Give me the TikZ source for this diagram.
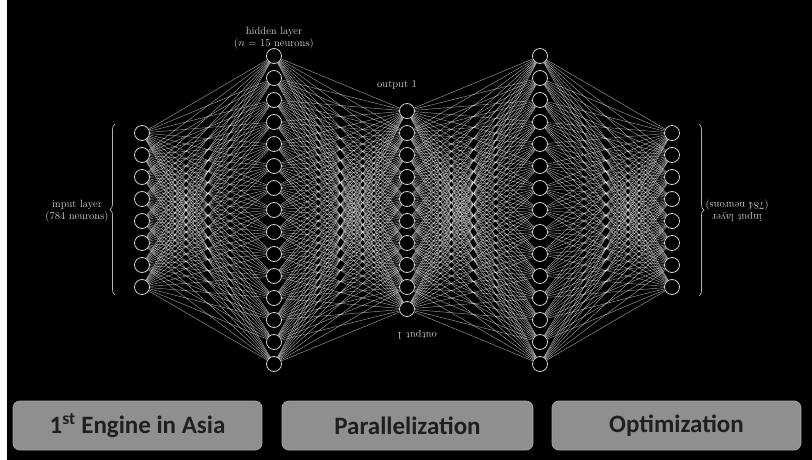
\documentclass[tikz,border=0pt]{standalone}
\usepackage{fontspec}
\newfontfamily\boxfont{Carlito}
\usetikzlibrary{decorations.pathreplacing}
\begin{document}
\begin{tikzpicture}[x=1pt,y=-1pt,
  neuron/.style={circle,draw=white!82!black,line width=0.8pt,fill=black,minimum size=15pt,inner sep=0pt},
  conn/.style={draw=white,line width=0.45pt,opacity=0.6},
  lbl/.style={text=white!80!black,font=\fontsize{10.5}{11.5}\selectfont,align=center},
  brc/.style={draw=white!70!black,line width=0.7pt,decorate,decoration={brace,amplitude=5pt}},
  tile/.style={rounded corners=7pt,fill=white!56!black,draw=white!64!black,line width=0.8pt,
    minimum height=49pt,inner sep=0pt,text=black!88,font=\boxfont\bfseries\fontsize{25}{30}\selectfont}]
\useasboundingbox (0,0) rectangle (812,460);
\fill[black] (0,0) rectangle (812,460);
\fill[white] (0,0) rectangle (7,460);
% layers
\foreach \i in {1,...,8} \node[neuron] (a\i) at (142,{210+(\i-4.5)*22}) {};
\foreach \i in {1,...,15} \node[neuron] (b\i) at (274,{210+(\i-8)*22}) {};
\foreach \i in {1,...,10} \node[neuron] (c\i) at (407,{210+(\i-5.5)*22}) {};
\foreach \i in {1,...,15} \node[neuron] (d\i) at (540,{210+(\i-8)*22}) {};
\foreach \i in {1,...,8} \node[neuron] (e\i) at (672,{210+(\i-4.5)*22}) {};
% connections
\foreach \i in {1,...,8} \foreach \j in {1,...,15} \draw[conn] (a\i) -- (b\j);
\foreach \i in {1,...,15} \foreach \j in {1,...,10} \draw[conn] (b\i) -- (c\j);
\foreach \i in {1,...,10} \foreach \j in {1,...,15} \draw[conn] (c\i) -- (d\j);
\foreach \i in {1,...,15} \foreach \j in {1,...,8} \draw[conn] (d\i) -- (e\j);
% labels
\node[lbl] (hl) at (274,38) {hidden layer\\($n$ = 15 neurons)};
\node[lbl] (o1) at (397,85) {output 1};
\node[lbl,rotate=180] (o1r) at (417,335) {output 1};
\node[lbl] (il) at (77,211) {input layer\\(784 neurons)};
\node[lbl,rotate=180] (ir) at (737,211) {input layer\\(784 neurons)};
\coordinate (lb1) at (115,295); \coordinate (lb2) at (115,124);
\coordinate (rb1) at (699,124); \coordinate (rb2) at (699,296);
\draw[brc] (lb1) -- (lb2);
\draw[brc] (rb1) -- (rb2);
% bottom tiles
\node[tile,minimum width=249pt] (t1) at (137.5,425.5) {1\textsuperscript{st} Engine in Asia};
\node[tile,minimum width=251pt] (t2) at (407.5,425.5) {Parallelization};
\node[tile,minimum width=249pt] (t3) at (676.5,425.5) {Optimization};
\end{tikzpicture}
\end{document}
